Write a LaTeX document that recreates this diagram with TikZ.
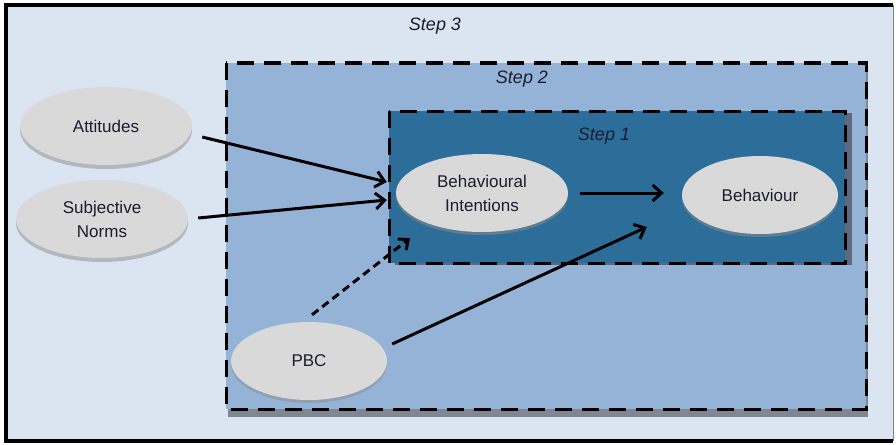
\documentclass[tikz,border=0pt]{standalone}
\usepackage{fontspec}
\setmainfont{Liberation Sans}
\usetikzlibrary{arrows.meta,shapes.geometric}
\definecolor{outerfill}{HTML}{DBE5F1}
\definecolor{midfill}{HTML}{95B3D7}
\definecolor{innerfill}{HTML}{2C6E99}
\definecolor{ellfill}{HTML}{D9D9D9}
\definecolor{txt}{HTML}{1C1C30}
\definecolor{innershadow}{HTML}{5C6A80}
\definecolor{midshadow}{HTML}{808790}
\tikzset{
  ell/.style={ellipse, fill=ellfill, inner sep=0pt, align=center, text=txt,
    font=\fontsize{17}{24}\selectfont},
  ellshadow/.style={ellipse, fill=black!45, opacity=0.5, inner sep=0pt},
  boxline/.style={line width=3pt, dash pattern=on 17pt off 10pt},
  steplabel/.style={font=\fontsize{18}{20}\selectfont\itshape, text=txt, inner sep=0pt},
  arr/.style={line width=3pt, -{Straight Barb[length=9pt,width=16pt]}},
  darr/.style={line width=3pt, dash pattern=on 8pt off 5pt, -{Straight Barb[length=8pt,width=14pt]}}
}
\begin{document}
\begin{tikzpicture}[x=1pt,y=-1pt]
\useasboundingbox (0,0) rectangle (896,444);
\fill[white] (0,0) rectangle (896,444);
% outer box (Step 3)
\fill[outerfill] (6,5) rectangle (893,441);
\draw[black!50, line width=0.8pt] (893,5) -- (893,441);
\draw[black, line width=3.5pt] (893,5) -- (6,5) -- (6,441) -- (893,441);
\node[steplabel] (s3) at (435,26) {Step 3};
% Step 2 box
\fill[midshadow] (228,70) rectangle (868,417);
\fill[midfill] (226,63) rectangle (866,409);
\draw[boxline] (226,63) rectangle (866,409);
\node[steplabel] (s2) at (522,79) {Step 2};
% Step 1 box
\fill[innershadow] (395,113) rectangle (852,265);
\fill[innerfill] (389,111) rectangle (845,263);
\draw[boxline] (389,111) rectangle (845,263);
\node[steplabel] (s1) at (604,136) {Step 1};
% ellipse shadows
\node[ellshadow, minimum width=172pt, minimum height=78pt] at (106,130) {};
\node[ellshadow, minimum width=172pt, minimum height=78pt] at (102,223) {};
\node[ellshadow, minimum width=172pt, minimum height=78pt] at (482,196) {};
\node[ellshadow, minimum width=156pt, minimum height=78pt] at (760,198) {};
\node[ellshadow, minimum width=156pt, minimum height=78pt] at (309,364) {};
% ellipses
\node[ell, minimum width=172pt, minimum height=78pt] (att) at (106,126) {Attitudes};
\node[ell, minimum width=172pt, minimum height=78pt] (sn) at (102,219) {Subjective\\Norms};
\node[ell, minimum width=172pt, minimum height=78pt] (bi) at (482,193) {Behavioural\\Intentions};
\node[ell, minimum width=156pt, minimum height=78pt] (beh) at (760,195) {Behaviour};
\node[ell, minimum width=156pt, minimum height=78pt] (pbc) at (309,361) {PBC};
% connectors
\draw[arr] ([shift={(10,11)}]att.east) -- ([shift={(-9,-11)}]bi.west);
\draw[arr] ([shift={(10,-1)}]sn.east) -- ([shift={(-9,7)}]bi.west);
\draw[arr] ([shift={(12,0)}]bi.east) -- ([shift={(-18,-2)}]beh.west);
\draw[arr] ([shift={(5,-17)}]pbc.east) -- ([shift={(-35,32)}]beh.west);
\draw[darr] ([shift={(3,-7)}]pbc.north) -- ([shift={(-72,6)}]bi.south);
\end{tikzpicture}
\end{document}
